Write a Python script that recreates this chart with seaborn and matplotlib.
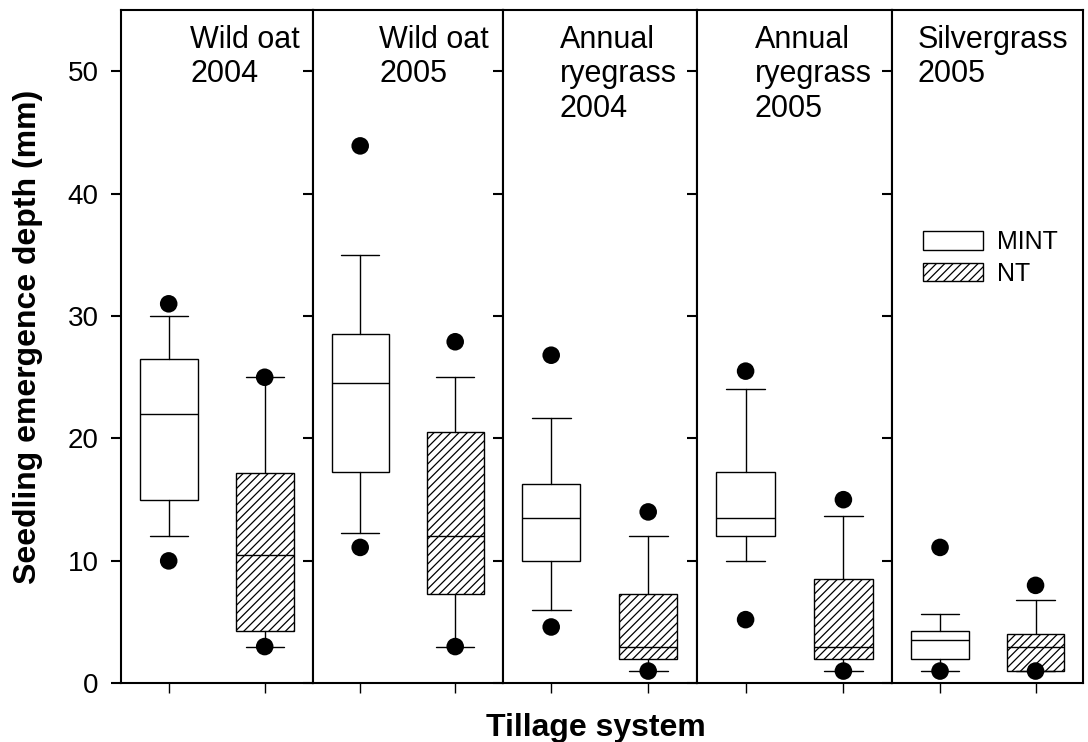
import numpy as np
import pandas as pd
import matplotlib
matplotlib.use("Agg")
import matplotlib.pyplot as plt
import seaborn as sns
from matplotlib.patches import Patch

# ---------------- data ----------------
panels = ["Wild oat\n2004", "Wild oat\n2005", "Annual\nryegrass\n2004",
          "Annual\nryegrass\n2005", "Silvergrass\n2005"]
systems = ["MINT", "NT"]

# SigmaPlot-style boxes: 10th/90th whiskers, 5th/95th dots
mint_p5 = [10.0, 11.1, 4.6, 5.2, 1.0]
mint_p10 = [12.0, 12.3, 6.0, 10.0, 1.0]
mint_q1 = [15.0, 17.3, 10.0, 12.0, 2.0]
mint_med = [22.0, 24.5, 13.5, 13.5, 3.5]
mint_q3 = [26.5, 28.5, 16.3, 17.3, 4.3]
mint_p90 = [30.0, 35.0, 21.7, 24.0, 5.7]
mint_p95 = [31.0, 43.9, 26.8, 25.5, 11.1]

nt_p5 = [3.0, 3.0, 1.0, 1.0, 1.0]
nt_p10 = [3.0, 3.0, 1.0, 1.0, 1.0]
nt_q1 = [4.3, 7.3, 2.0, 2.0, 1.0]
nt_med = [10.5, 12.0, 3.0, 3.0, 3.0]
nt_q3 = [17.2, 20.5, 7.3, 8.5, 4.0]
nt_p90 = [25.0, 25.0, 12.0, 13.7, 6.8]
nt_p95 = [25.0, 27.9, 14.0, 15.0, 8.0]

y_ticks = [0, 10, 20, 30, 40, 50]

# ---------------- build tidy tables ----------------
rows = []
for i, p in enumerate(panels):
    for s, src in zip(systems, [
        (mint_p5, mint_p10, mint_q1, mint_med, mint_q3, mint_p90, mint_p95),
        (nt_p5, nt_p10, nt_q1, nt_med, nt_q3, nt_p90, nt_p95)]):
        p5, p10, q1, med, q3, p90, p95 = (a[i] for a in src)
        rows.append(dict(panel=p, system=s, p5=p5, p10=p10, q1=q1, med=med,
                         q3=q3, p90=p90, p95=p95))
stats = pd.DataFrame(rows)
dots = stats.melt(id_vars=["panel", "system"], value_vars=["p5", "p95"],
                  var_name="pct", value_name="depth")

# ---------------- style ----------------
sns.set_style("ticks")
plt.rcParams["font.family"] = ["Liberation Sans", "DejaVu Sans"]
plt.rcParams["hatch.linewidth"] = 0.9
plt.rcParams["hatch.color"] = "black"
for k in ["text.color", "axes.labelcolor", "xtick.color", "ytick.color",
          "axes.edgecolor"]:
    plt.rcParams[k] = "black"

fig = plt.figure(figsize=(10.88, 7.42), dpi=100)
gs = fig.add_gridspec(1, 5, left=120.7 / 1088, right=1083.3 / 1088,
                      top=1 - 10 / 742, bottom=1 - 683.3 / 742, wspace=0,
                      width_ratios=[192, 190, 194, 195.6, 191])
axes = [fig.add_subplot(gs[0, i]) for i in range(5)]

label_x = [0.361, 0.349, 0.295, 0.298, 0.133]
hatches = {"MINT": None, "NT": "////"}

for i, (ax, p) in enumerate(zip(axes, panels)):
    sub = stats[stats.panel == p].set_index("system").loc[systems]
    bstats = []
    for s, r in sub.iterrows():
        bstats.append(dict(med=r.med, q1=r.q1, q3=r.q3, whislo=r.p10,
                           whishi=r.p90, fliers=[], label=s))
    bp = ax.bxp(bstats, positions=[0, 1], widths=0.6, capwidths=0.4,
                patch_artist=True, showfliers=False,
                boxprops=dict(facecolor="white", edgecolor="black", linewidth=1.0),
                whiskerprops=dict(color="black", linewidth=1.0),
                capprops=dict(color="black", linewidth=1.0),
                medianprops=dict(color="black", linewidth=1.0))
    for patch, s in zip(bp["boxes"], systems):
        if hatches[s]:
            patch.set_hatch(hatches[s])
    d = dots[dots.panel == p].copy()
    d["pos"] = d["system"].map({"MINT": 0, "NT": 1})
    sns.scatterplot(data=d, x="pos", y="depth", color="black", s=160,
                    edgecolor="none", linewidth=0, ax=ax, legend=False,
                    zorder=5, clip_on=False)
    ax.set_xlim(-0.5, 1.5)
    ax.set_ylim(0, 55)
    ax.set_xlabel("")
    ax.set_ylabel("")
    ax.set_xticks([0, 1])
    ax.set_xticklabels([])
    ax.set_yticks(y_ticks)
    for sp in ax.spines.values():
        sp.set_visible(True)
        sp.set_linewidth(1.5)
        sp.set_color("black")
    ax.tick_params(axis="x", direction="out", length=7, width=1.0,
                   bottom=True, top=False, labelbottom=False, color="black")
    if i == 0:
        ax.tick_params(axis="y", left=True, right=True, labelleft=True,
                       direction="out", length=7, width=1.5, pad=9,
                       labelsize=20, color="black", labelcolor="black")
    elif i < 4:
        ax.tick_params(axis="y", left=False, right=True, labelleft=False,
                       direction="in", length=7, width=1.5, color="black")
    else:
        ax.tick_params(axis="y", left=False, right=False, labelleft=False)
    ax.text(label_x[i], 0.978, p, transform=ax.transAxes, ha="left",
            va="top", fontsize=22, linespacing=1.2, color="black")

# left panel: right-side ticks point inward
for t in axes[0].yaxis.get_major_ticks():
    t.tick2line.set_marker(0)

handles = [Patch(facecolor="white", edgecolor="black", linewidth=1.0,
                 label=systems[0]),
           Patch(facecolor="white", edgecolor="black", linewidth=1.0,
                 hatch="////", label=systems[1])]
axes[4].legend(handles=handles, loc="upper left",
               bbox_to_anchor=(0.16, 0.673), frameon=False, fontsize=18,
               handlelength=2.4, handleheight=0.76, labelspacing=0.3,
               handletextpad=0.55, borderpad=0, borderaxespad=0,
               labelcolor="black")

fig.text(13 / 1088, 1 - 337 / 742, "Seedling emergence depth (mm)",
         rotation=90, ha="left", va="center", fontsize=23, fontweight="bold",
         color="black")
fig.text(596 / 1088, 6 / 742, "Tillage system", ha="center",
         va="baseline", fontsize=23, fontweight="bold", color="black")

fig.savefig("out.png", dpi=100)
